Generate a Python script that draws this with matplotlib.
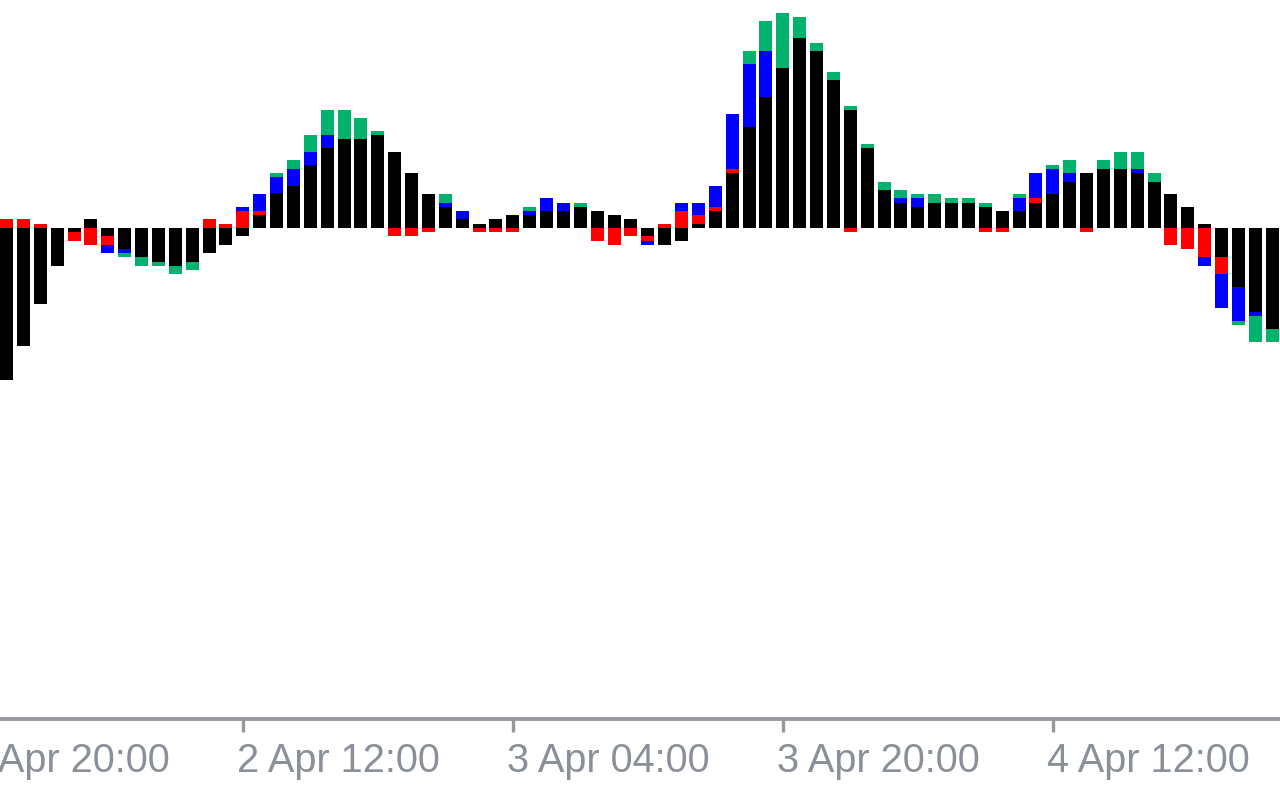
import numpy as np
import matplotlib
matplotlib.use("Agg")
import matplotlib.pyplot as plt
import matplotlib.transforms as mtransforms

# values per hourly bar (black main part, then red / blue / green parts)
black = [-152, -118, -76, -38, -4, 9, -8, -21, -29, -34, -38, -34, -25, -17, -8, 13,
         35, 42, 63, 80, 89, 89, 93, 76, 55, 34, 21, 9, 4, 9, 13, 13,
         17, 17, 21, 17, 13, 9, -8, -17, -13, 4, 17, 55, 101, 131, 160, 190,
         177, 148, 118, 80, 38, 25, 21, 25, 25, 25, 21, 17, 17, 25, 34, 46,
         55, 59, 59, 55, 46, 34, 21, 4, -29, -59, -84, -101]
red = [9, 9, 4, 0, -9, -17, -9, 0, 0, 0, 0, 0, 9, 4, 17, 4,
       0, 0, 0, 0, 0, 0, 0, -8, -8, -4, 0, 0, -4, -4, -4, 0,
       0, 0, 0, -13, -17, -8, -5, 4, 17, 9, 4, 4, 0, 0, 0, 0,
       0, 0, -4, 0, 0, 0, 0, 0, 0, 0, -4, -4, 0, 5, 0, 0,
       -4, 0, 0, 0, 0, -17, -21, -29, -17, 0, 0, 0]
blue = [0, 0, 0, 0, 0, 0, -8, -4, 0, 0, 0, 0, 0, 0, 4, 17,
        16, 17, 13, 13, 0, 0, 0, 0, 0, 0, 4, 8, 0, 0, 0, 4,
        13, 8, 0, 0, 0, 0, -4, 0, 8, 12, 21, 55, 63, 46, 0, 0,
        0, 0, 0, 0, 0, 5, 9, 0, 0, 0, 0, 0, 13, 25, 25, 9,
        0, 0, 0, 4, 0, 0, 0, -9, -34, -34, -4, 0]
green = [0, 0, 0, 0, 0, 0, 0, -4, -9, -4, -8, -8, 0, 0, 0, 0,
         4, 9, 17, 25, 29, 21, 4, 0, 0, 0, 9, 0, 0, 0, 0, 4,
         0, 0, 4, 0, 0, 0, 0, 0, 0, 0, 0, 0, 13, 30, 55, 21,
         8, 8, 4, 4, 8, 8, 4, 9, 5, 5, 4, 0, 4, 0, 4, 13,
         0, 9, 17, 17, 9, 0, 0, 0, 0, -4, -26, -13]

tick_pos = [-2, 14, 30, 46, 62]
tick_labels = ["1 Apr 20:00", "2 Apr 12:00", "3 Apr 04:00", "3 Apr 20:00", "4 Apr 12:00"]

series = [(black, "#000000"), (red, "#FF0000"), (blue, "#0000FF"), (green, "#00B26B")]

fig = plt.figure(figsize=(12.8, 8), dpi=100)
ax = fig.add_axes([0, 1 - 719 / 800, 1, 719 / 800])

x = np.arange(len(black))
width = 13 / 16.875
pos_base = np.zeros(len(x))
neg_base = np.zeros(len(x))
for vals, col in series:
    v = np.array(vals, dtype=float)
    bottom = np.where(v >= 0, pos_base, neg_base)
    ax.bar(x, v, width=width, bottom=bottom, color=col, linewidth=0, antialiased=False)
    pos_base = np.where(v > 0, pos_base + v, pos_base)
    neg_base = np.where(v < 0, neg_base + v, neg_base)

left = -width / 2
ax.set_xlim(left, left + 1280 / 16.875)
ax.set_ylim(-491, 228)

for s in ["top", "left", "right"]:
    ax.spines[s].set_visible(False)
gray = "#969aa0"
ax.spines["bottom"].set_color(gray)
ax.spines["bottom"].set_linewidth(2.8)
ax.set_yticks([])
ax.set_xticks([p for p in tick_pos if p >= 0])
ax.set_xticklabels([])
ax.tick_params(axis="x", length=9, width=2.4, color=gray, direction="out")

trans = mtransforms.blended_transform_factory(ax.transData, ax.transAxes)
for p, lab in zip(tick_pos, tick_labels):
    ax.annotate(lab, xy=(p, 0), xycoords=trans, xytext=(-6, -53),
                textcoords="offset pixels", ha="left", va="baseline",
                fontsize=28.6, family="Liberation Sans", color="#8a9098",
                annotation_clip=False)

fig.savefig("out.png", dpi=100)
